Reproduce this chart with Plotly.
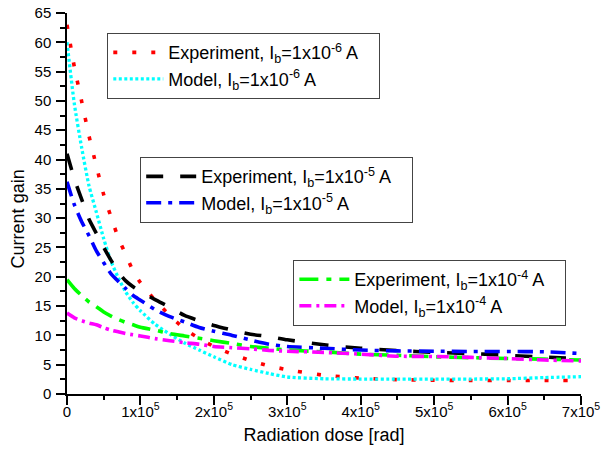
import plotly.graph_objects as go

dose = [0, 10e3, 20e3, 30e3, 40e3, 50e3, 60e3, 70e3, 80e3, 90e3, 100e3, 120e3, 140e3,
        160e3, 180e3, 200e3, 225e3, 250e3, 275e3, 300e3, 350e3, 400e3, 450e3, 500e3,
        550e3, 600e3, 650e3, 700e3]

exp_1e6 = [63.0, 55.8, 49.9, 44.0, 38.9, 34.0, 30.2, 26.6, 23.8, 21.0, 19.0, 16.0, 13.4,
           11.1, 9.5, 8.1, 6.8, 5.7, 4.8, 4.15, 3.2, 2.7, 2.45, 2.35, 2.3, 2.3, 2.3, 2.3]
mod_1e6 = [60.0, 49.5, 42.0, 35.5, 31.0, 26.5, 22.6, 19.8, 17.4, 15.6, 14.2, 11.9, 10.2,
           8.7, 7.5, 6.35, 5.0, 4.2, 3.5, 2.9, 2.6, 2.55, 2.55, 2.55, 2.55, 2.6, 2.8, 2.95]
exp_1e5 = [41.0, 36.7, 33.2, 29.8, 27.4, 25.0, 22.8, 20.8, 19.3, 18.3, 17.5, 16.1, 14.8,
           13.4, 12.5, 11.7, 10.9, 10.2, 9.8, 9.25, 8.4, 7.8, 7.4, 7.1, 6.9, 6.6, 6.3, 6.0]
mod_1e5 = [36.2, 32.3, 29.4, 27.0, 24.4, 22.4, 20.5, 19.2, 18.0, 16.8, 16.0, 14.4, 13.2,
           12.3, 11.35, 10.7, 10.0, 9.2, 8.5, 8.1, 7.8, 7.5, 7.35, 7.3, 7.25, 7.25, 7.2, 6.9]
exp_1e4 = [19.5, 18.0, 16.8, 15.7, 14.9, 14.0, 13.3, 12.7, 12.2, 11.8, 11.4, 10.9, 10.3,
           9.9, 9.5, 9.1, 8.6, 8.1, 7.8, 7.5, 7.2, 6.8, 6.6, 6.35, 6.2, 6.05, 5.95, 5.8]
mod_1e4 = [13.8, 13.0, 12.5, 12.1, 11.8, 11.3, 10.9, 10.6, 10.3, 10.1, 9.9, 9.45, 9.1,
           8.75, 8.5, 8.1, 7.9, 7.7, 7.45, 7.3, 7.1, 6.8, 6.45, 6.4, 6.25, 6.05, 5.8, 5.65]

x_tickvals = [0, 1e5, 2e5, 3e5, 4e5, 5e5, 6e5, 7e5]
x_ticktext = ["0"] + ["%dx10<sup>5</sup>" % i for i in range(1, 8)]

FONT = "Arial, Liberation Sans, sans-serif"
PAD = "\u00a0\u00a0\u00a0"

series = [
    ("Experiment, I<sub>b</sub>=1x10<sup>-6</sup> A", exp_1e6, "#FF0000", "4px,15px", 3.6, "legend"),
    ("Model, I<sub>b</sub>=1x10<sup>-6</sup> A", mod_1e6, "#00FFFF", "3px,2.5px", 3.3, "legend"),
    ("Experiment, I<sub>b</sub>=1x10<sup>-5</sup> A", exp_1e5, "#000000", "17px,17px", 3.6, "legend2"),
    ("Model, I<sub>b</sub>=1x10<sup>-5</sup> A", mod_1e5, "#0000FF", "15px,7px,4px,7px", 3.6, "legend2"),
    ("Experiment, I<sub>b</sub>=1x10<sup>-4</sup> A", exp_1e4, "#00FF00", "19px,8px,5px,8px", 3.6, "legend3"),
    ("Model, I<sub>b</sub>=1x10<sup>-4</sup> A", mod_1e4, "#FF00FF", "12px,5px,3px,5px", 3.6, "legend3"),
]

fig = go.Figure()
for name, ys, col, dash, w, leg in series:
    fig.add_trace(go.Scatter(x=dose, y=ys, mode="lines", name=name + PAD, legend=leg,
                             line=dict(color=col, dash=dash, width=w, shape="spline", smoothing=0.6)))

leg_common = dict(bgcolor="white", bordercolor="#444", borderwidth=1.2,
                  font=dict(family=FONT, size=18, color="black"),
                  xanchor="left", yanchor="top", itemwidth=50)

fig.update_layout(
    width=602, height=459,
    margin=dict(l=67, r=21, t=13, b=65, autoexpand=False),
    paper_bgcolor="white", plot_bgcolor="white",
    font=dict(family=FONT, color="black"),
    showlegend=True,
    legend=dict(x=0.078, y=0.9475, **leg_common),
    legend2=dict(x=0.142, y=0.622, **leg_common),
    legend3=dict(x=0.44, y=0.352, **leg_common),
    xaxis=dict(range=[0, 7e5], tickmode="array", tickvals=x_tickvals, ticktext=x_ticktext,
               automargin=False,
               showline=True, linecolor="black", linewidth=1.5, ticks="outside", ticklen=9,
               tickwidth=1.5, tickcolor="black", showgrid=False, zeroline=False,
               tickfont=dict(size=15, family=FONT), ticklabelstandoff=-6,
               minor=dict(ticks="outside", ticklen=4, tickwidth=1.5, tickcolor="black", dtick=5e4, tick0=0),
               title=dict(text="Radiation dose [rad]", font=dict(size=18, family=FONT), standoff=10)),
    yaxis=dict(range=[0, 65], dtick=5, tick0=0, automargin=False,
               showline=True, linecolor="black", linewidth=1.5, ticks="outside", ticklen=9,
               tickwidth=1.5, tickcolor="black", showgrid=False, zeroline=False,
               tickfont=dict(size=15, family=FONT), ticklabelstandoff=2,
               minor=dict(ticks="outside", ticklen=5, tickwidth=1.5, tickcolor="black", dtick=2.5, tick0=0)),
    annotations=[dict(text="Current gain", textangle=-90, xref="paper", yref="paper",
                      x=-0.096, y=0.46, xanchor="center", yanchor="middle", showarrow=False,
                      font=dict(size=18, family=FONT))],
)

fig.write_html("out.html", config={"displayModeBar": False},
               post_script="document.body.style.margin='0';document.body.style.overflow='hidden';")
